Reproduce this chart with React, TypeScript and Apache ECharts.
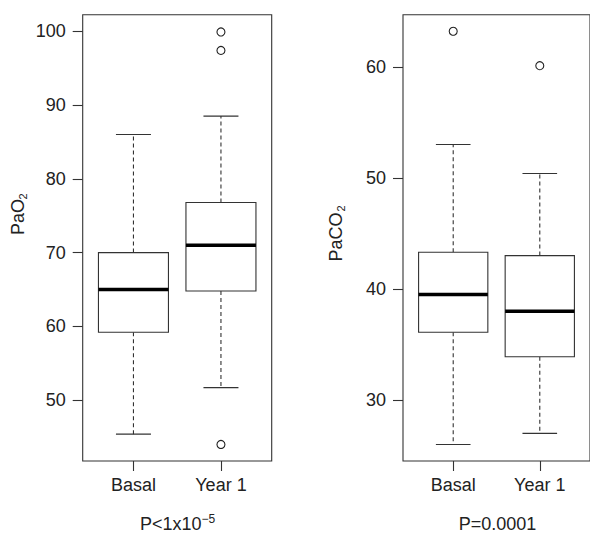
import React, { useEffect, useRef } from "react";
import * as echarts from "echarts";

const categories = ["Basal", "Year 1"];
const categoryPositions = [1, 2];
// [min whisker, Q1, median, Q3, max whisker]
const pao2Stats = [
  [45.4, 59.2, 65.0, 70.0, 86.0],
  [51.7, 64.8, 71.0, 76.8, 88.5],
];
const pao2Outliers = [
  [2, 99.9],
  [2, 97.4],
  [2, 44.0],
];
const paco2Stats = [
  [26.0, 36.1, 39.5, 43.3, 53.0],
  [27.0, 33.9, 38.0, 43.0, 50.4],
];
const paco2Outliers = [
  [1, 63.2],
  [2, 60.1],
];
const pao2Ticks = [50, 60, 70, 80, 90, 100];
const paco2Ticks = [30, 40, 50, 60];
const pao2Range = [41.76, 102.24];
const paco2Range = [24.51, 64.69];

const FONT = "'Liberation Sans', Arial, Helvetica, sans-serif";
const TEXT = "#222";
const LINE = "#333";

function boxRows(stats: number[][]) {
  return stats.map((s, i) => [categoryPositions[i], ...s]);
}

function renderBox(params: any, api: any) {
  const x = api.value(0);
  const mn = api.value(1);
  const q1 = api.value(2);
  const med = api.value(3);
  const q3 = api.value(4);
  const mx = api.value(5);
  const c = (v: number) => api.coord([x, v]);
  const half = api.size([0.4, 0])[0];
  const cap = half / 2;
  const cx = c(med)[0];
  const yMin = c(mn)[1];
  const yQ1 = c(q1)[1];
  const yMed = c(med)[1];
  const yQ3 = c(q3)[1];
  const yMax = c(mx)[1];
  const thin = { stroke: LINE, lineWidth: 1.1 };
  return {
    type: "group",
    children: [
      { type: "line", shape: { x1: cx, y1: yQ3, x2: cx, y2: yMax }, style: { ...thin, lineDash: [4, 3] } },
      { type: "line", shape: { x1: cx, y1: yQ1, x2: cx, y2: yMin }, style: { ...thin, lineDash: [4, 3] } },
      { type: "line", shape: { x1: cx - cap, y1: yMax, x2: cx + cap, y2: yMax }, style: thin },
      { type: "line", shape: { x1: cx - cap, y1: yMin, x2: cx + cap, y2: yMin }, style: thin },
      {
        type: "rect",
        shape: { x: cx - half, y: yQ3, width: 2 * half, height: yQ1 - yQ3 },
        style: { fill: "#fff", ...thin },
      },
      {
        type: "line",
        shape: { x1: cx - half, y1: yMed, x2: cx + half, y2: yMed },
        style: { stroke: "#000", lineWidth: 3.5 },
      },
    ],
  };
}

export default function App() {
  const ref = useRef<HTMLDivElement>(null);
  useEffect(() => {
    if (!ref.current) return;
    const chart = echarts.init(ref.current, null, { renderer: "svg" });
    const gridTop = 14.7;
    const gridH = 446.3;
    const xAxisBase = (gridIndex: number) => ({
      type: "value",
      gridIndex,
      min: 0.42,
      max: 2.58,
      axisLine: { show: false },
      splitLine: { show: false },
      axisTick: { show: true, customValues: categoryPositions, length: 10, lineStyle: { color: LINE, width: 1.1 } },
      axisLabel: {
        customValues: categoryPositions,
        margin: 15,
        color: TEXT,
        fontSize: 18,
        fontFamily: FONT,
        formatter: (v: number) => categories[Math.round(v) - 1] ?? "",
      },
    });
    const yAxisBase = (gridIndex: number, range: number[], ticks: number[]) => ({
      type: "value",
      gridIndex,
      min: range[0],
      max: range[1],
      axisLine: { show: false },
      splitLine: { show: false },
      axisTick: { show: true, customValues: ticks, length: 10, lineStyle: { color: LINE, width: 1.1 } },
      axisLabel: {
        customValues: ticks,
        margin: 17,
        color: TEXT,
        fontSize: 18,
        fontFamily: FONT,
      },
    });
    const scatterStyle = {
      type: "scatter",
      symbol: "circle",
      symbolSize: 8,
      itemStyle: { color: "#fff", borderColor: "#222", borderWidth: 1.1, opacity: 1 },
    };
    chart.setOption({
      animation: false,
      backgroundColor: "#fff",
      grid: [
        { left: 82.7, top: gridTop, width: 189, height: gridH, show: true, borderColor: LINE, borderWidth: 1.1, backgroundColor: "transparent" },
        { left: 403, top: gridTop, width: 189, height: gridH, show: true, borderColor: LINE, borderWidth: 1.1, backgroundColor: "transparent" },
      ],
      xAxis: [xAxisBase(0), xAxisBase(1)],
      yAxis: [yAxisBase(0, pao2Range, pao2Ticks), yAxisBase(1, paco2Range, paco2Ticks)],
      series: [
        {
          type: "custom",
          xAxisIndex: 0,
          yAxisIndex: 0,
          renderItem: renderBox,
          encode: { x: 0, y: [1, 2, 3, 4, 5] },
          data: boxRows(pao2Stats),
        },
        { ...scatterStyle, xAxisIndex: 0, yAxisIndex: 0, data: pao2Outliers },
        {
          type: "custom",
          xAxisIndex: 1,
          yAxisIndex: 1,
          renderItem: renderBox,
          encode: { x: 0, y: [1, 2, 3, 4, 5] },
          data: boxRows(paco2Stats),
        },
        { ...scatterStyle, xAxisIndex: 1, yAxisIndex: 1, data: paco2Outliers },
      ],
      graphic: [
        {
          type: "group",
          x: 18,
          y: 214,
          rotation: Math.PI / 2,
          children: [
            { type: "text", x: -21, y: 0, style: { text: "PaO", font: `18px ${FONT}`, fill: TEXT, align: "left", verticalAlign: "middle" } },
            { type: "text", x: 14.5, y: 5, style: { text: "2", font: `11px ${FONT}`, fill: TEXT, align: "left", verticalAlign: "middle" } },
          ],
        },
        {
          type: "group",
          x: 336,
          y: 233.5,
          rotation: Math.PI / 2,
          children: [
            { type: "text", x: -28, y: 0, style: { text: "PaCO", font: `18px ${FONT}`, fill: TEXT, align: "left", verticalAlign: "middle" } },
            { type: "text", x: 22, y: 5, style: { text: "2", font: `11px ${FONT}`, fill: TEXT, align: "left", verticalAlign: "middle" } },
          ],
        },
        { type: "text", x: 140, y: 523.5, style: { text: "P<1x10", font: `18px ${FONT}`, fill: TEXT, align: "left", verticalAlign: "middle" } },
        { type: "text", x: 201.5, y: 518.5, style: { text: "\u22125", font: `12px ${FONT}`, fill: TEXT, align: "left", verticalAlign: "middle" } },
        { type: "text", x: 497.5, y: 523.5, style: { text: "P=0.0001", font: `18px ${FONT}`, fill: TEXT, align: "center", verticalAlign: "middle" } },
      ],
    });
    return () => chart.dispose();
  }, []);
  return (
    <div
      ref={ref}
      style={{ position: "fixed", left: 0, top: 0, width: 590, height: 534, background: "#fff" }}
    />
  );
}
